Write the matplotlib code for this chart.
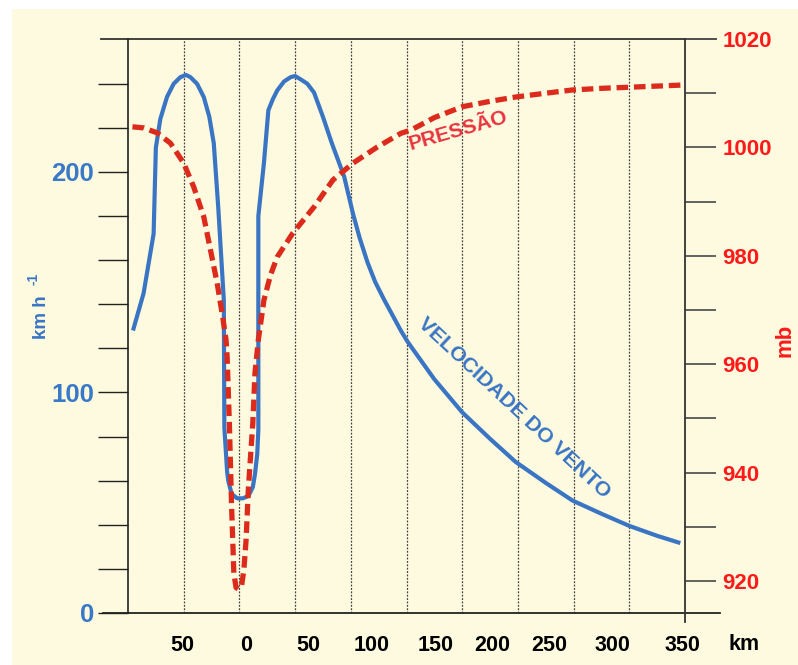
import matplotlib.pyplot as plt
from matplotlib.patches import Rectangle

# Libraries setup
plt.rcParams['font.family'] = ['Liberation Sans', 'DejaVu Sans']
plt.rcParams['font.weight'] = 'bold'

############################
# Data
############################

# wind speed (km/h) against distance from the eye (km)
wind_km = [-95, -86, -77, -75, -71, -65, -59, -53, -48, -44, -38, -32, -27, -23,
           -19, -14, -13.5, -11, -10, -7, -2, 3, 8, 12, 14, 16, 17, 17, 22, 26,
           30, 34, 40, 46, 50, 55, 61, 67, 75, 83, 94, 102, 108, 115, 122, 130,
           145, 151, 175, 200, 225, 248, 275, 299, 325, 350, 375, 394]
wind_speed = [129, 145, 172, 211, 224, 234, 240, 243, 244, 243, 240, 234, 225, 213,
              184, 142, 84, 64, 60, 54, 52, 52, 53, 57, 63, 72, 83, 180, 204, 228,
              233, 237, 241, 243, 243.5, 242, 240, 236, 225, 213, 198, 181, 170, 159, 150, 142,
              128, 123, 106, 91, 79, 68.5, 59, 51, 45, 39.5, 35, 32]

# surface pressure (mb) against distance from the eye (km)
pressure_km = [-96, -86, -74, -62, -50, -41, -32, -26, -20, -15, -12, -11, -9, -7,
               -5, -3, -1, 2, 4, 6, 8, 10, 12, 14, 17, 22, 28, 34, 48, 67, 84,
               102, 124, 145, 154, 175, 200, 225, 248, 275, 299, 325, 350, 397]
pressure_mb = [1003.8, 1003.6, 1002.7, 1000.8, 997.1, 992.7, 987.2, 981.1, 975, 968.7,
               964.5, 961.3, 949, 933.7, 921.5, 918.8, 918.5, 919.2, 922, 927.6,
               936.8, 943, 949, 958.4, 964.5, 971.8, 976.5, 979.8, 984.2, 989, 994,
               997.1, 1000.1, 1002.6, 1003.2, 1005.5, 1007.5, 1008.5, 1009.3, 1010,
               1010.6, 1010.9, 1011.1, 1011.5]

grid_km = [-50, 0, 50, 100, 150, 200, 250, 300, 350]
x_labels = ['50', '0', '50', '100', '150', '200', '250', '300', '350']
x_label_pos = [-51, 6, 62, 119, 176, 227, 278, 335, 398]

wind_ticks = [0, 100, 200]
pressure_ticks = [920, 940, 960, 980, 1000, 1020]

BLUE = '#3a75c4'
RED_LINE = '#dc2b1c'
RED_TEXT = '#ff1a1a'

############################
# Plot
############################

fig = plt.figure(figsize=(7.98, 6.65), dpi=100, facecolor='white')
fig.patches.append(Rectangle((12 / 798, 0), 1 - 12 / 798, 1 - 9 / 665,
                             transform=fig.transFigure, facecolor='#fefadf',
                             edgecolor='none', zorder=-5))

ax = fig.add_axes([128 / 798, 1 - 613 / 665, 557 / 798, 574 / 665])
ax.patch.set_visible(False)
ax2 = ax.twinx()
ax2.patch.set_visible(False)

ax.set_xlim(-100, 400)
ax.set_ylim(0, 260.3)
ax2.set_ylim(914.1, 1020)

# dotted verticals
for g in grid_km:
    ax.axvline(g, color='#444444', lw=0.9, ls=(0, (1.5, 1.2)), zorder=1)

# frame lines running past the spines
ax.axhline(0, xmin=-0.045, xmax=1.063, color='#222222', lw=1.3, clip_on=False)
ax.axhline(260.3, xmin=-0.048, xmax=1.056, color='#333333', lw=1.3, clip_on=False)
ax2.axvline(400, ymin=-0.016, ymax=1, color='#333333', lw=1.3, clip_on=False)

ax.plot(wind_km, wind_speed, color=BLUE, lw=3, solid_joinstyle='round', zorder=3)
ax2.plot(pressure_km, pressure_mb, color=RED_LINE, lw=3.8, dashes=(2.2, 1.1), zorder=3)

# spines
for s in ['top', 'bottom', 'right']:
    ax.spines[s].set_visible(False)
ax.spines['left'].set_color('#222222')
ax.spines['left'].set_linewidth(1.2)
for s in ['top', 'bottom', 'left', 'right']:
    ax2.spines[s].set_visible(False)

# x ticks
ax.set_xticks(x_label_pos)
ax.set_xticklabels(x_labels)
ax.tick_params(axis='x', length=0, pad=16, labelsize=15.5, labelcolor='black')
fig.text(744 / 798, 1 - 645 / 665, 'km', fontsize=15.5, ha='center', va='center')

# left axis
ax.set_yticks(wind_ticks)
ax.set_yticks([v for v in range(20, 260, 20) if v not in wind_ticks], minor=True)
ax.tick_params(axis='y', which='both', direction='out', length=21.6, width=1.0,
               color='#222222', pad=3, labelsize=18.5, labelcolor='#3a78c8')

# right axis
ax2.set_yticks(pressure_ticks)
ax2.set_yticks(range(930, 1020, 20), minor=True)
ax2.tick_params(axis='y', which='both', direction='out', length=22, width=1.3,
                color='#555555', pad=5, labelsize=16, labelcolor=RED_TEXT)

# axis titles
fig.text(41 / 798, 1 - 339 / 665, 'km h', rotation=90, color=BLUE, fontsize=13.5,
         ha='center', va='bottom')
fig.text(34 / 798, 1 - 285 / 665, '-1', rotation=90, color=BLUE, fontsize=10,
         ha='center', va='bottom')
fig.text(785 / 798, 1 - 340 / 665, 'mb', rotation=90, color=RED_TEXT, fontsize=16,
         ha='center', va='center')

# curve labels
fig.text(458 / 798, 1 - 131 / 665, 'PRESSÃO', rotation=16, color='#e8353f',
         fontsize=15, ha='center', va='center')
fig.text(514 / 798, 1 - 408 / 665, 'VELOCIDADE DO VENTO', rotation=-43, color=BLUE,
         fontsize=15.3, ha='center', va='center')

fig.savefig('out.png', dpi=100)
